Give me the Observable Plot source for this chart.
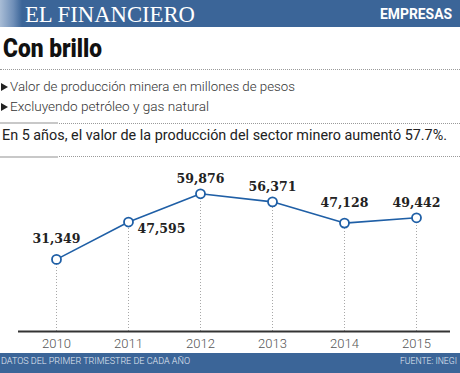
<!DOCTYPE html>
<html>
<head>
<meta charset="utf-8">
<script src="https://cdn.jsdelivr.net/npm/d3@7"></script>
<script src="https://cdn.jsdelivr.net/npm/@observablehq/plot@0.6"></script>
<style>
  html, body { margin: 0; padding: 0; background: #fff; }
  #page { position: relative; width: 460px; height: 373px; overflow: hidden; font-family: Roboto, "Noto Sans", sans-serif; }
  .abs { position: absolute; white-space: nowrap; transform-origin: 0 0; }
  .bar { position: absolute; left: 0; width: 460px; background: #3b6598; }
  .dots { position: absolute; left: 0; width: 460px; height: 0; border-top: 1px dotted #9a9a9a; }
  .solid { position: absolute; left: 0; width: 58px; height: 2px; background: #c8c8c8; }
  .tri { position: absolute; left: 1px; width: 0; height: 0; border-left: 7px solid #222; border-top: 4px solid transparent; border-bottom: 4px solid transparent; }
  #chart { position: absolute; left: 0; top: 158px; }
</style>
</head>
<body>
<div id="page">
  <div class="bar" style="top:0;height:27px;"></div>
  <div class="abs" style="left:0;top:0;width:22px;height:27px;background:linear-gradient(90deg,#a9bdd6,#6f8fb8 60%,#3b6598);"></div>
  <div class="abs fit" data-w="170" style="left:25px;top:1.6px;font-family:'Liberation Serif',serif;font-size:24px;line-height:24px;color:#fff;">EL FINANCIERO</div>
  <div class="abs fit" data-w="72" data-right="452" style="top:6.5px;font-weight:700;font-size:14px;line-height:14px;color:#fff;">EMPRESAS</div>

  <div class="abs fit" data-w="99" style="left:3px;top:35px;font-weight:900;font-size:26px;line-height:26px;color:#111;">Con brillo</div>
  <div class="dots" style="top:69px;"></div>

  <div class="tri" style="top:83px;"></div>
  <div class="abs fit" data-w="285" style="left:10px;top:80px;font-weight:300;font-size:13px;line-height:13px;color:#333;">Valor de producción minera en millones de pesos</div>
  <div class="tri" style="top:102.5px;"></div>
  <div class="abs fit" data-w="199" style="left:10px;top:99.8px;font-weight:300;font-size:13px;line-height:13px;color:#333;">Excluyendo petróleo y gas natural</div>

  <div class="dots" style="top:122.5px;"></div>
  <div class="solid" style="top:122px;"></div>
  <div class="abs fit" data-w="445" style="left:2px;top:129px;font-weight:400;font-size:14.5px;line-height:14.5px;color:#222;">En 5 años, el valor de la producción del sector minero aumentó 57.7%.</div>
  <div class="dots" style="top:156px;"></div>
  <div class="solid" style="top:155.5px;"></div>

  <div id="chart"></div>

  <div class="bar" style="top:353px;height:20px;"></div>
  <div class="abs fit" data-w="189" style="left:1px;top:357.4px;font-weight:300;font-size:9px;line-height:9px;color:#e4eaf3;">DATOS DEL PRIMER TRIMESTRE DE CADA AÑO</div>
  <div class="abs fit" data-w="57" data-right="457" style="top:357.4px;font-weight:300;font-size:9px;line-height:9px;color:#e4eaf3;">FUENTE: INEGI</div>
</div>
<script>
const years = ["2010", "2011", "2012", "2013", "2014", "2015"];
const values = [31349, 47595, 59876, 56371, 47128, 49442];
const tickLabels = ["2010", "2011", "2012", "2013", "2014", "2015"];

const data = years.map((y, i) => ({year: y, value: values[i]}));
const fmt = d3.format(",");
const lineColor = "#1f5fa6";
const labelFont = "'DejaVu Serif', serif";

const chart = Plot.plot({
  width: 460,
  height: 195,
  marginTop: 23.5,
  marginBottom: 22,
  marginLeft: 18,
  marginRight: 10,
  style: {background: "transparent", overflow: "visible"},
  x: {type: "point", domain: years, padding: 0, insetLeft: 37, insetRight: 34},
  y: {domain: [0, 65000], axis: null},
  marks: [
    Plot.ruleX(data, {x: "year", y1: 0, y2: "value", stroke: "#a8a8a8", strokeDasharray: "1,2", strokeWidth: 1}),
    Plot.ruleY([0], {stroke: "#333", strokeWidth: 2}),
    Plot.axisX(tickLabels, {tickSize: 0, tickPadding: 7, fontSize: 13, fill: "#555", fontWeight: 300, label: null, fontFamily: "Roboto", style: {letterSpacing: "-0.6px"}}),
    Plot.line(data, {x: "year", y: "value", stroke: lineColor, strokeWidth: 1.6}),
    Plot.dot(data, {x: "year", y: "value", r: 4.5, fill: "#fff", stroke: lineColor, strokeWidth: 1.8}),
    Plot.text(data.filter(d => d.year === "2010" || d.year === "2014"), {x: "year", y: "value", text: d => fmt(d.value), dy: -20, fontSize: 12.5, fontWeight: "bold", fontFamily: labelFont, fill: "#222"}),
    Plot.text(data.filter(d => d.year === "2012" || d.year === "2013" || d.year === "2015"), {x: "year", y: "value", text: d => fmt(d.value), dy: -15, fontSize: 12.5, fontWeight: "bold", fontFamily: labelFont, fill: "#222"}),
    Plot.text(data.filter(d => d.year === "2011"), {x: "year", y: "value", text: d => fmt(d.value), dx: 9, dy: 7, textAnchor: "start", fontSize: 12.5, fontWeight: "bold", fontFamily: labelFont, fill: "#222"})
  ]
});
document.getElementById("chart").appendChild(chart);

// fit text widths
document.querySelectorAll(".fit").forEach(el => {
  const target = +el.dataset.w;
  const w = el.getBoundingClientRect().width;
  const s = target / w;
  if (el.dataset.right) el.style.left = (+el.dataset.right - target) + "px";
  el.style.transform = `scaleX(${s})`;
});
</script>
</body>
</html>
